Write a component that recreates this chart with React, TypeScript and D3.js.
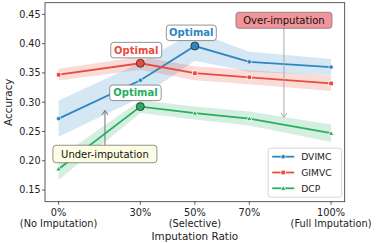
import React from 'react';
import * as d3 from 'd3';

const ratios = [0, 30, 50, 70, 100];
const tickLines1 = ['0%', '30%', '50%', '70%', '100%'];
const tickLines2 = ['(No Imputation)', '', '(Selective)', '', '(Full Imputation)'];
const yTicks = [0.15, 0.2, 0.25, 0.3, 0.35, 0.4, 0.45];

const dvimc = [0.272, 0.3375, 0.396, 0.369, 0.36];
const dvimcErr = [0.031, 0.03, 0.025, 0.017, 0.014];
const gimvc = [0.347, 0.3665, 0.3495, 0.3425, 0.332];
const gimvcErr = [0.01, 0.011, 0.012, 0.012, 0.013];
const dcp = [0.186, 0.2925, 0.2815, 0.272, 0.247];
const dcpErr = [0.019, 0.011, 0.011, 0.012, 0.015];

const series = [
  { name: 'DVIMC', values: dvimc, err: dvimcErr, color: '#2E86C1', marker: 'circle', best: 2 },
  { name: 'GIMVC', values: gimvc, err: gimvcErr, color: '#E74C3C', marker: 'square', best: 1 },
  { name: 'DCP', values: dcp, err: dcpErr, color: '#27AE60', marker: 'triangle', best: 1 },
];

const W = 377;
const H = 243;
const margin = { top: 2.7, right: 32.3, bottom: 41.3, left: 45 };
const iw = W - margin.left - margin.right;
const ih = H - margin.top - margin.bottom;
const font = 'DejaVu Sans, sans-serif';

const x = d3.scaleLinear().domain([-5, 105]).range([0, iw]);
const y = d3.scaleLinear().domain([0.13, 0.47]).range([ih, 0]);

const Marker = ({ kind, cx, cy, color }: { kind: string; cx: number; cy: number; color: string }) => {
  if (kind === 'square') {
    return <rect x={cx - 2.3} y={cy - 2.3} width={4.6} height={4.6} fill={color} stroke="#fff" strokeWidth={0.8} />;
  }
  if (kind === 'triangle') {
    const s = 2.8;
    return (
      <path
        d={`M${cx},${cy - s} L${cx + s},${cy + s * 0.75} L${cx - s},${cy + s * 0.75} Z`}
        fill={color}
        stroke="#fff"
        strokeWidth={0.9}
      />
    );
  }
  return <circle cx={cx} cy={cy} r={2.2} fill={color} stroke="#fff" strokeWidth={0.6} />;
};

const Box = ({ cx, cy, w, h, text, fill, color, bold }: any) => (
  <g>
    <rect x={cx - w / 2} y={cy - h / 2} width={w} height={h} rx={3} fill={fill} stroke="#777" strokeWidth={0.8} />
    <text x={cx} y={cy} dy="0.36em" textAnchor="middle" fontSize={10} fontWeight={bold ? 'bold' : 'normal'} fill={color} fontFamily={font}>
      {text}
    </text>
  </g>
);

const Arrow = ({ x0, y0, x1, y1, color }: any) => {
  const dir = y1 > y0 ? 1 : -1;
  return (
    <g stroke={color} strokeWidth={1} fill="none">
      <line x1={x0} y1={y0} x2={x1} y2={y1} />
      <path d={`M${x1 - 3},${y1 - dir * 4.5} L${x1},${y1} L${x1 + 3},${y1 - dir * 4.5}`} />
    </g>
  );
};

export default function App() {
  const line = d3.line<number>().x((_, i) => x(ratios[i])).y((d) => y(d));

  return (
    <svg width={W} height={H} style={{ position: 'absolute', left: 0, top: 0 }}>
      <g transform={`translate(${margin.left},${margin.top})`}>
        {series.map((s) => {
          const area = d3
            .area<number>()
            .x((_, i) => x(ratios[i]))
            .y0((d, i) => y(d - s.err[i]))
            .y1((d, i) => y(d + s.err[i]));
          return <path key={s.name + 'band'} d={area(s.values) || ''} fill={s.color} opacity={0.2} />;
        })}
        {series.map((s) => (
          <g key={s.name}>
            <path d={line(s.values) || ''} fill="none" stroke={s.color} strokeWidth={1.8} />
            {s.values.map((v, i) =>
              i === s.best ? (
                <circle key={i} cx={x(ratios[i])} cy={y(v)} r={4} fill={s.color} stroke="#333" strokeWidth={0.9} />
              ) : (
                <Marker key={i} kind={s.marker} cx={x(ratios[i])} cy={y(v)} color={s.color} />
              )
            )}
          </g>
        ))}

        {/* annotations */}
        <Arrow x0={x(82.7)} y0={y(0.44) + 8} x1={x(82.7)} y1={y(0.274)} color="#aaa" />
        <Arrow x0={x(17)} y0={y(0.2115) - 9} x1={x(17)} y1={y(0.286)} color="#777" />
        <Box cx={x(48.7)} cy={y(0.4185)} w={50} h={15.5} text="Optimal" fill="#fff" color="#2E86C1" bold />
        <Box cx={x(28.5)} cy={y(0.389)} w={51} h={15.5} text="Optimal" fill="#fff" color="#E74C3C" bold />
        <Box cx={x(28.2)} cy={y(0.316)} w={51.5} h={15.5} text="Optimal" fill="#fff" color="#27AE60" bold />
        <Box cx={x(82.7)} cy={y(0.44)} w={96} h={16} text="Over-imputation" fill="#F1959A" color="#111" />
        <Box cx={x(17)} cy={y(0.2115)} w={104} h={17.5} text="Under-imputation" fill="#FDFDE3" color="#111" />

        {/* frame */}
        <rect x={0} y={0} width={iw} height={ih} fill="none" stroke="#333" strokeWidth={0.8} />

        {/* y axis */}
        {yTicks.map((t) => (
          <g key={t} transform={`translate(0,${y(t)})`}>
            <line x1={-3} x2={0} stroke="#333" strokeWidth={0.8} />
            <text x={-4.5} dy="0.35em" textAnchor="end" fontSize={9.6} fontFamily={font} fill="#222">
              {t.toFixed(2)}
            </text>
          </g>
        ))}
        <text
          transform={`translate(${-33},${ih / 2}) rotate(-90)`}
          textAnchor="middle"
          fontSize={10.4}
          fontFamily={font}
          fill="#222"
        >
          Accuracy
        </text>

        {/* x axis */}
        {ratios.map((r, i) => (
          <g key={r} transform={`translate(${x(r)},${ih})`}>
            <line y1={0} y2={3} stroke="#333" strokeWidth={0.8} />
            <text y={14} textAnchor="middle" fontSize={9.8} fontFamily={font} fill="#222">
              {tickLines1[i]}
            </text>
            <text y={25} textAnchor="middle" fontSize={9.8} fontFamily={font} fill="#222">
              {tickLines2[i]}
            </text>
          </g>
        ))}
        <text x={iw / 2} y={ih + 38} textAnchor="middle" fontSize={10.4} fontFamily={font} fill="#222">
          Imputation Ratio
        </text>

        {/* legend */}
        <g transform={`translate(${iw - 76.5},${ih - 53.5})`}>
          <rect width={73.5} height={49} rx={2.5} fill="#fff" fillOpacity={0.85} stroke="#ccc" strokeWidth={0.8} />
          {series.map((s, i) => (
            <g key={s.name} transform={`translate(0,${8.5 + i * 15.8})`}>
              <line x1={4} x2={26} stroke={s.color} strokeWidth={1.8} />
              <Marker kind={s.marker} cx={15} cy={0} color={s.color} />
              <text x={33} dy="0.35em" fontSize={9.2} fontFamily={font} fill="#222">
                {s.name}
              </text>
            </g>
          ))}
        </g>
      </g>
    </svg>
  );
}
